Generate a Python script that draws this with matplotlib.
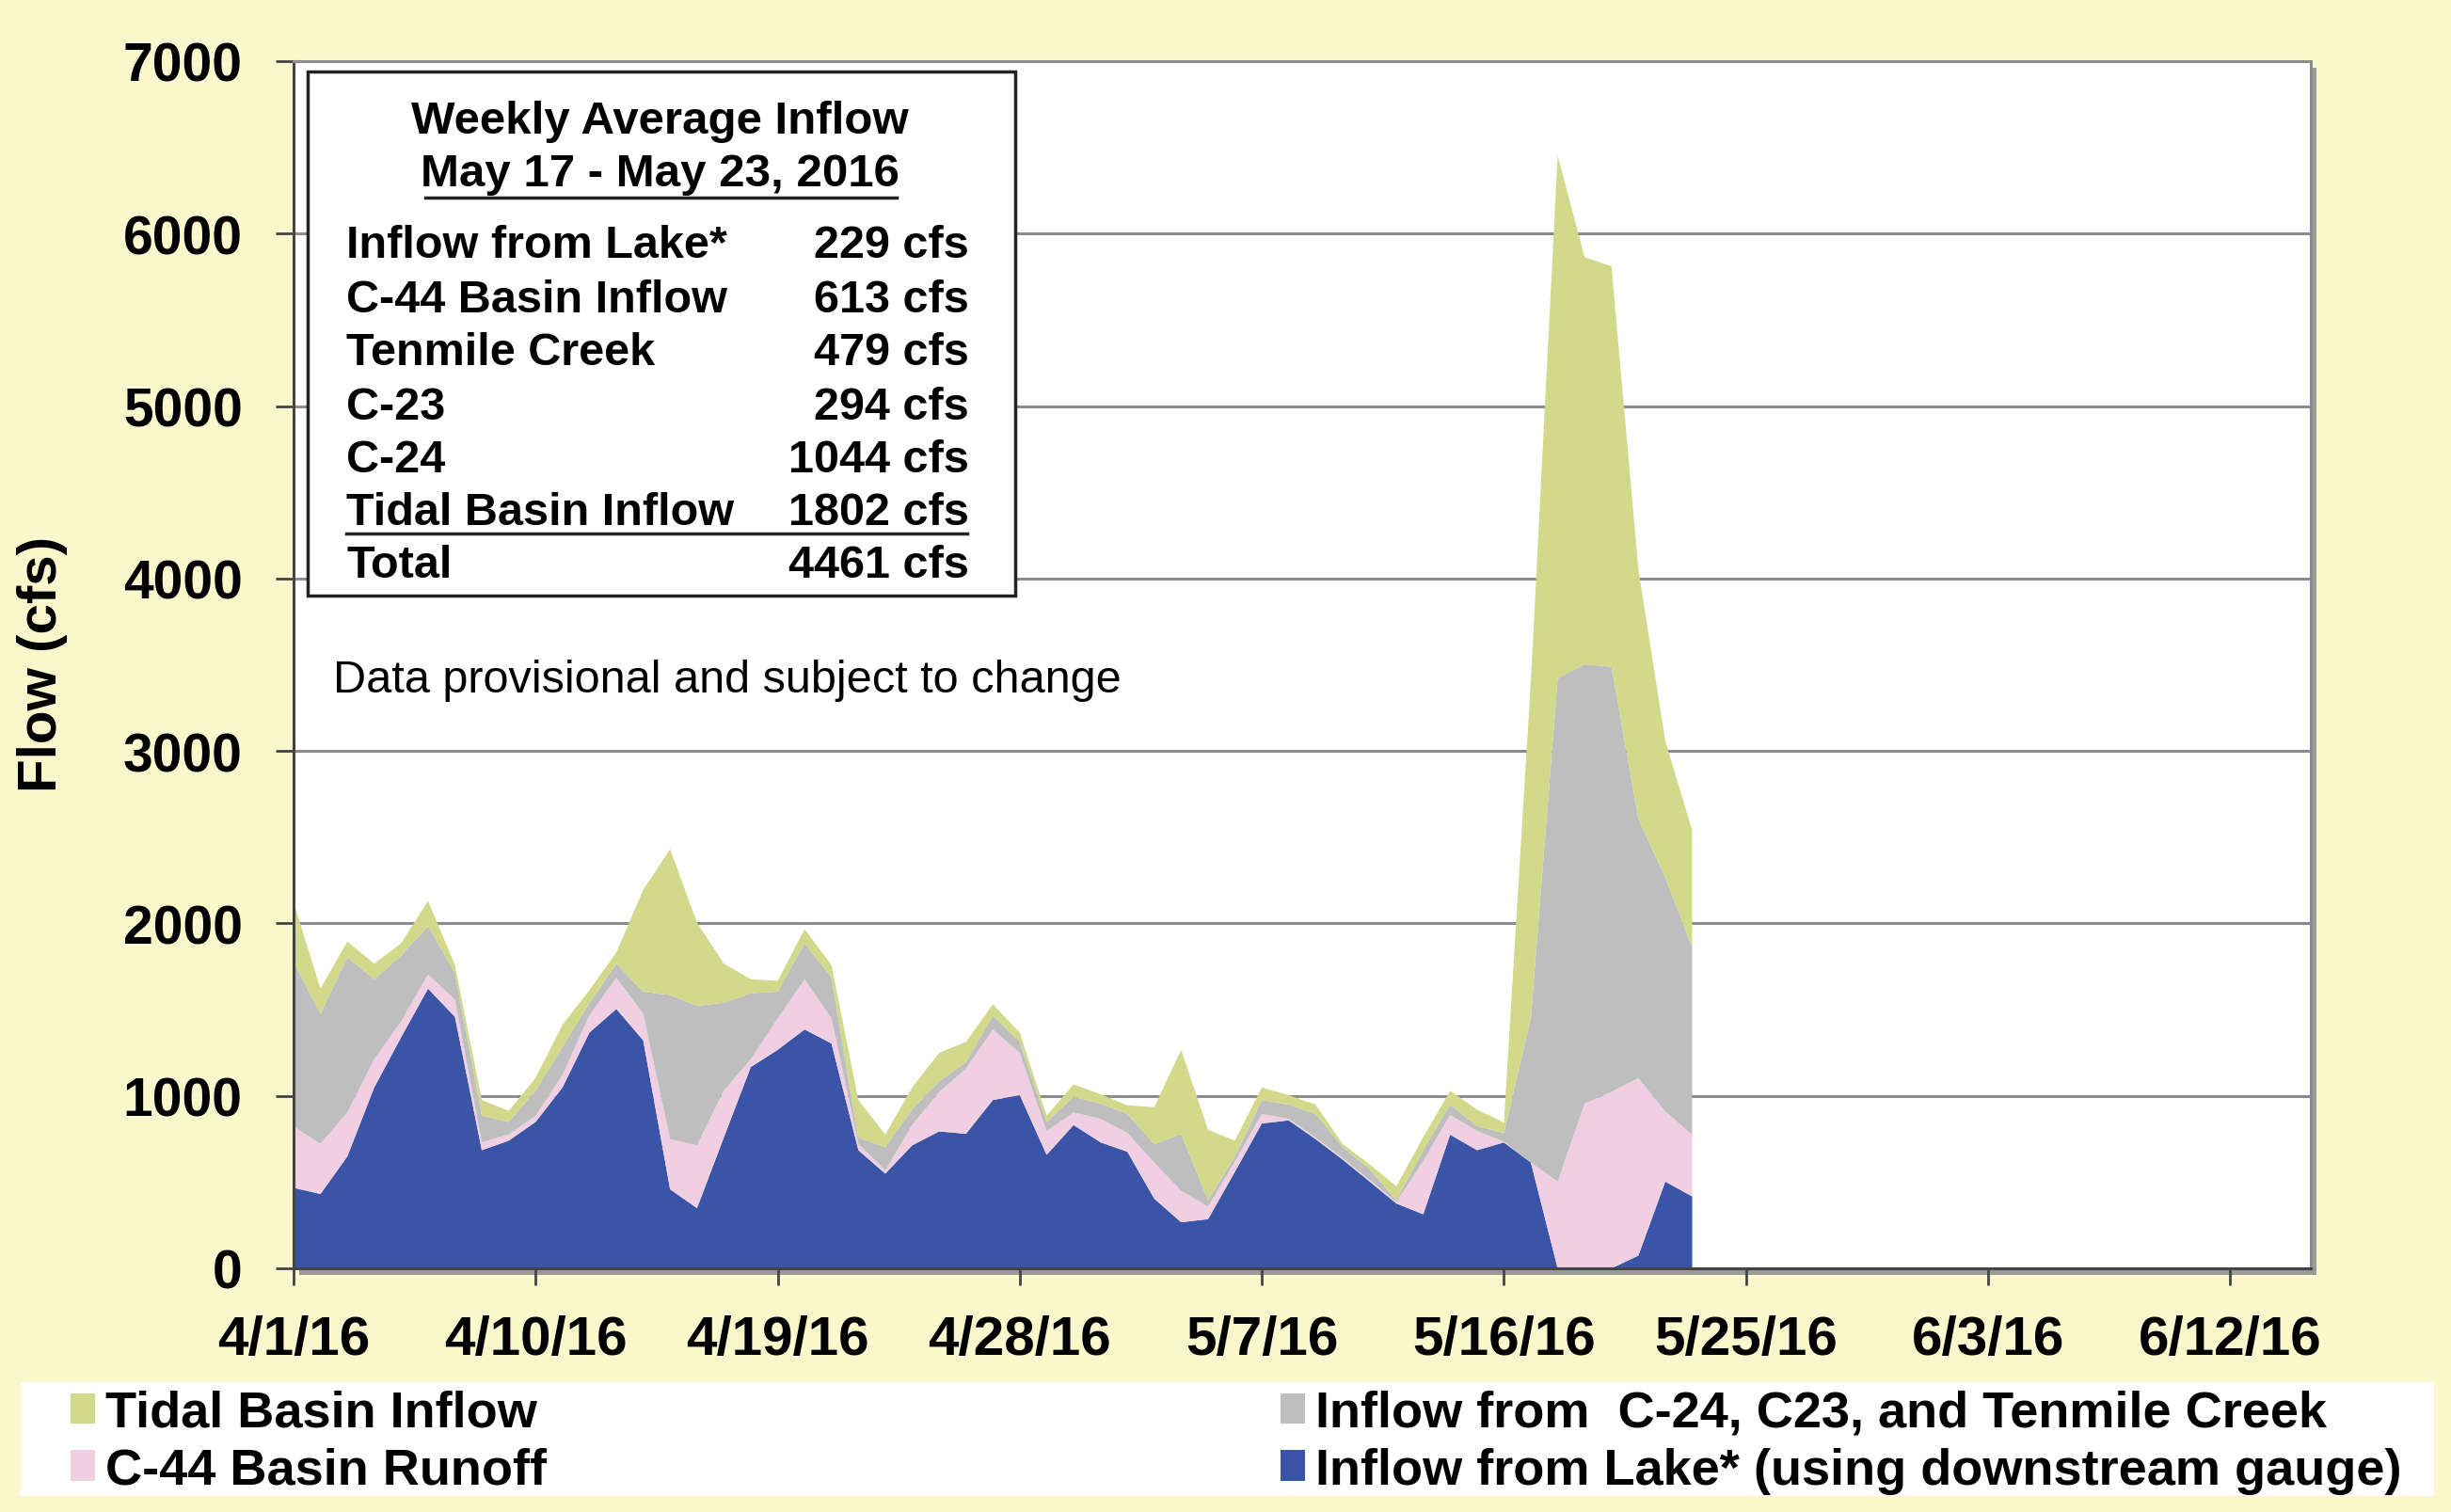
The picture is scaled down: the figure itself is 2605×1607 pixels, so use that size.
import pandas as pd
import matplotlib.pyplot as plt
import matplotlib.dates as mdates
from matplotlib.patches import Rectangle
from matplotlib.lines import Line2D
from matplotlib.ticker import FuncFormatter, MultipleLocator

plt.rcParams['font.family'] = ['Liberation Sans', 'DejaVu Sans']

W, H = 2605, 1608

# daily flows (cfs), 4/1/16 - 5/23/16
lake = [467, 431, 649, 1049, 1340, 1622, 1458, 685, 740, 849,
        1049, 1367, 1504, 1322, 458, 349, 760, 1167, 1267, 1385,
        1304, 685, 549, 713, 794, 780, 976, 1004, 658, 831,
        731, 676, 404, 267, 285, 560, 840, 858, 749, 631,
        504, 376, 313, 775, 685, 730, 614, 0, 0, 0,
        74, 503, 417]
c44 = [355, 291, 255, 164, 91, 82, 100, 46, 36, 36,
       73, 100, 181, 154, 291, 364, 271, 46, 182, 291,
       145, 37, 18, 118, 228, 378, 409, 245, 137, 73,
       136, 109, 209, 182, 73, 60, 55, 9, 9, 9,
       9, 9, 309, 115, 111, 5, 0, 502, 955, 1023,
       1030, 407, 357]
c24_c23_tenmile = [954, 754, 900, 463, 382, 281, 155, 154, 73, 146,
                   163, 73, 82, 128, 836, 809, 509, 382, 155, 209,
                   236, 36, 137, 91, 63, 37, 82, 64, 54, 91,
                   88, 110, 107, 331, 37, 29, 81, 82, 137, 64,
                   63, 10, 63, 60, 29, 50, 836, 2919, 2547, 2466,
                   1502, 1357, 1086]
tidal = [346, 146, 91, 91, 72, 146, 45, 91, 64, 73,
         128, 73, 64, 591, 846, 482, 227, 81, 63, 82,
         73, 218, 72, 127, 164, 118, 64, 54, 36, 72,
         55, 50, 215, 487, 409, 91, 73, 55, 54, 18,
         28, 81, 75, 80, 95, 60, 1950, 3031, 2362, 2321,
         1448, 792, 678]
dates = pd.date_range("2016-04-01", periods=len(lake), freq="D")

series_labels = ["Inflow from Lake* (using downstream gauge)", "C-44 Basin Runoff",
                 "Inflow from  C-24, C23, and Tenmile Creek", "Tidal Basin Inflow"]
colors = ["#3A55A6", "#F0CFE3", "#BEBEBE", "#D3D98A"]

box_labels = ["Inflow from Lake*", "C-44 Basin Inflow", "Tenmile Creek", "C-23",
              "C-24", "Tidal Basin Inflow", "Total"]
box_values = [229, 613, 479, 294, 1044, 1802, 4461]


def fx(x):
    return x / W


def fy(y):
    return 1 - y / H


def date_label(v, pos):
    d = mdates.num2date(v)
    return f"{d.month}/{d.day}/{d.year % 100}"


fig = plt.figure(figsize=(W / 100, H / 100), dpi=100, facecolor="#FAF7CD")
ax = fig.add_axes([fx(312), fy(1349), fx(2456) - fx(312), fy(66) - fy(1349)])

# drop shadow behind the plot area
fig.patches.append(Rectangle((fx(318), fy(1356)), fx(2456) - fx(312), fy(66) - fy(1349),
                             transform=fig.transFigure, facecolor="#9a9a9a",
                             edgecolor="none", zorder=-1))

polys = ax.stackplot(dates, lake, c44, c24_c23_tenmile, tidal,
                     colors=colors, labels=series_labels, linewidth=0)

ax.set_facecolor("white")
ax.set_xlim(pd.Timestamp("2016-04-01"), pd.Timestamp("2016-06-15"))
ax.set_ylim(0, 7000)
ax.yaxis.set_major_locator(MultipleLocator(1000))
ax.set_xticks(pd.date_range("2016-04-01", "2016-06-15", freq="9D"))
ax.xaxis.set_major_formatter(FuncFormatter(date_label))
ax.grid(axis="y", color="#8c8c8c", linewidth=2.2)
ax.set_axisbelow(True)

for side in ["left", "bottom"]:
    ax.spines[side].set_color("#444444")
    ax.spines[side].set_linewidth(2.2)
for side in ["top", "right"]:
    ax.spines[side].set_color("#8c8c8c")
    ax.spines[side].set_linewidth(2.2)

ax.tick_params(axis="y", length=14, width=2, color="#444444", pad=25,
               labelsize=41)
ax.tick_params(axis="x", length=13, width=2, color="#444444", pad=22,
               labelsize=42)
for lab in ax.get_xticklabels() + ax.get_yticklabels():
    lab.set_fontweight("bold")

ax.set_ylabel("Flow (cfs)", fontsize=42, fontweight="bold")
ax.yaxis.set_label_coords((72 - 312) / (2456 - 312), (1349 - 706) / (1349 - 66))

# summary box
fig.patches.append(Rectangle((fx(327), fy(634)), fx(1079) - fx(327), fy(77) - fy(634),
                             transform=fig.transFigure, facecolor="white",
                             edgecolor="#222222", linewidth=2.5, zorder=5))
fig.text(fx(701), fy(130), "Weekly Average Inflow", fontsize=35.5, fontweight="bold",
         ha="center", va="center", zorder=6)
fig.text(fx(701), fy(186), "May 17 - May 23, 2016", fontsize=35.5, fontweight="bold",
         ha="center", va="center", zorder=6)
fig.lines.append(Line2D([fx(452), fx(953)], [fy(211), fy(211)], transform=fig.transFigure,
                        color="#222222", linewidth=2.5, zorder=6))
row_y = [261, 319, 375, 433, 489, 546, 602]
for y, lab, val in zip(row_y, box_labels, box_values):
    fig.text(fx(368), fy(y), lab, fontsize=35, fontweight="bold",
             ha="left", va="center", zorder=6)
    fig.text(fx(1030), fy(y), f"{val} cfs", fontsize=35, fontweight="bold",
             ha="right", va="center", zorder=6)
fig.lines.append(Line2D([fx(368), fx(1028)], [fy(568), fy(568)], transform=fig.transFigure,
                        color="#222222", linewidth=2.5, zorder=6))

fig.text(fx(354), fy(724), "Data provisional and subject to change", fontsize=35,
         ha="left", va="center")

# legend strip
fig.patches.append(Rectangle((fx(22), fy(1591)), fx(2587) - fx(22), fy(1470) - fy(1591),
                             transform=fig.transFigure, facecolor="white",
                             edgecolor="none", zorder=0))
handles = [polys[3], polys[1], polys[2], polys[0]]
leg = fig.legend(handles, [h.get_label() for h in handles], ncol=2,
                 loc="upper left", bbox_to_anchor=(fx(75), fy(1478)),
                 frameon=False, borderpad=0, borderaxespad=0,
                 prop={"size": 39, "weight": "bold"},
                 handlelength=0.48, handleheight=0.55, handletextpad=0.2,
                 labelspacing=0.2, columnspacing=14.4)

fig.savefig("out.png", dpi=100, facecolor=fig.get_facecolor())
